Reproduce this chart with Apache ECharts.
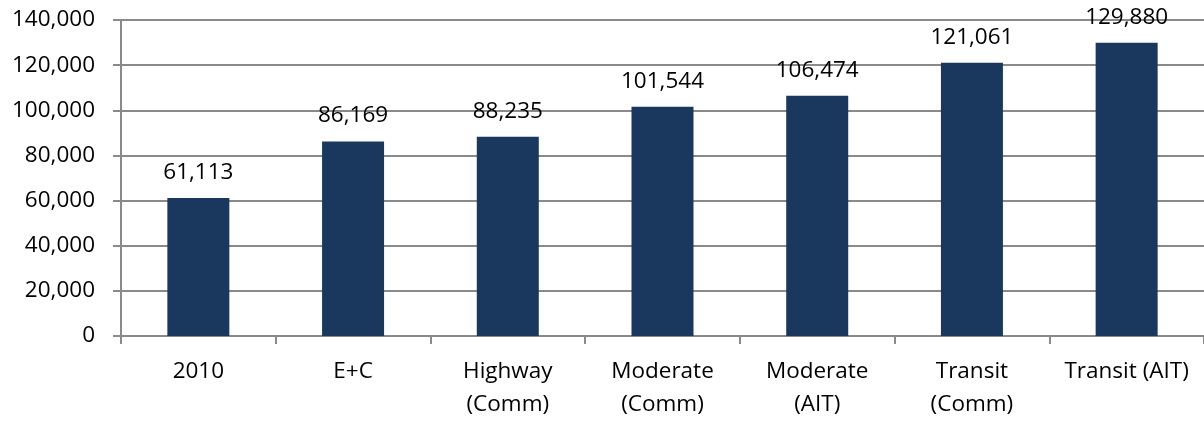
<!DOCTYPE html>
<html><head><meta charset="utf-8">
<script src="https://cdn.jsdelivr.net/npm/echarts@6/dist/echarts.min.js"></script>
<style>html,body{margin:0;padding:0;background:#fff}#c{width:1204px;height:421px}</style>
</head><body><div id="c"></div>
<script>
const categories = ['2010', 'E+C', 'Highway\n(Comm)', 'Moderate\n(Comm)', 'Moderate\n(AIT)', 'Transit\n(Comm)', 'Transit (AIT)'];
const values = [61113, 86169, 88235, 101544, 106474, 121061, 129880];
const yMin = 0, yMax = 140000, yStep = 20000;
const font = 'Open Sans';
const fs = 22.5;
const chart = echarts.init(document.getElementById('c'));
chart.setOption({
  animation: false,
  grid: { left: 121, top: 20, width: 1088, height: 317, containLabel: false },
  xAxis: {
    type: 'category', data: categories,
    axisLine: { lineStyle: { color: '#8a8a8a', width: 2 } },
    axisTick: { show: true, length: 8, alignWithLabel: false, lineStyle: { color: '#8a8a8a', width: 2 } },
    axisLabel: { color: '#000', fontFamily: font, fontSize: fs, lineHeight: 33, margin: 19, interval: 0 }
  },
  yAxis: {
    type: 'value', min: yMin, max: yMax, interval: yStep,
    axisLine: { show: true, lineStyle: { color: '#8a8a8a', width: 2 } },
    axisTick: { show: true, length: 8, lineStyle: { color: '#8a8a8a', width: 2 } },
    splitLine: { lineStyle: { color: '#8a8a8a', width: 2 } },
    axisLabel: { color: '#000', fontFamily: font, fontSize: fs, margin: 26,
      formatter: v => v.toLocaleString('en-US') }
  },
  series: [{
    type: 'bar', data: values, barWidth: 62,
    itemStyle: { color: '#1a375d' },
    label: { show: true, position: 'top', distance: 14, color: '#000', fontFamily: font, fontSize: fs,
      formatter: p => p.value.toLocaleString('en-US') }
  }]
});
</script></body></html>
